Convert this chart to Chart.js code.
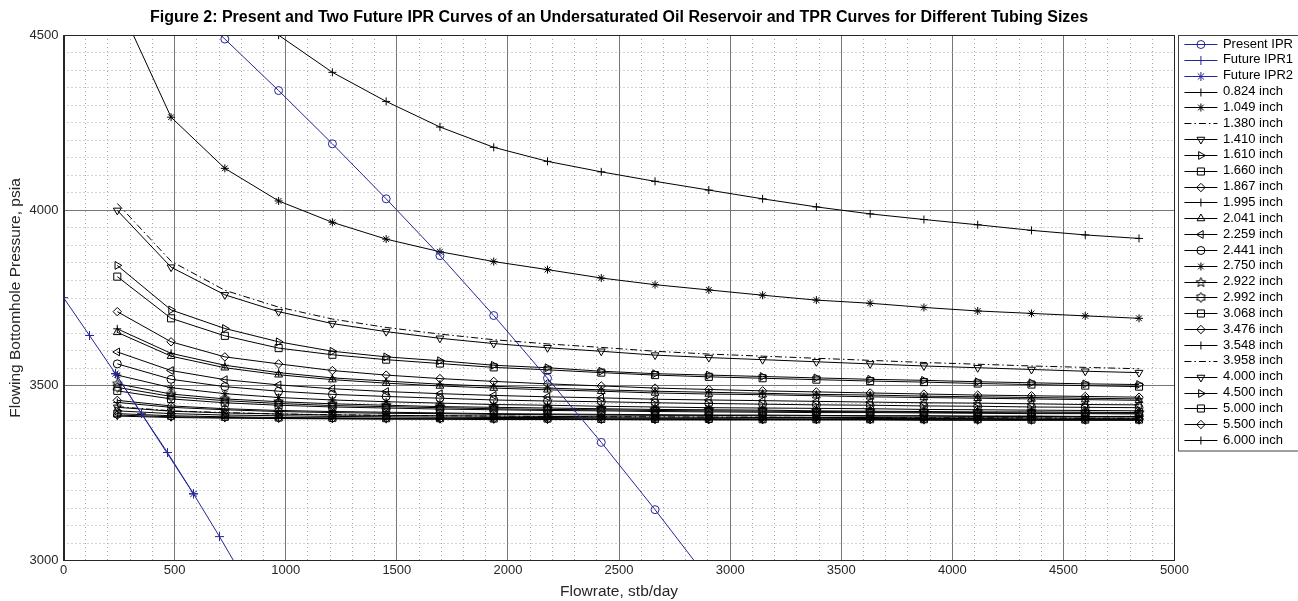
<!DOCTYPE html>
<html><head><meta charset="utf-8">
<script src="https://cdn.jsdelivr.net/npm/chart.js@4.4.0/dist/chart.umd.min.js"></script>
<style>html,body{margin:0;padding:0;background:#fff;overflow:hidden}#wrap{position:relative;width:1298px;height:601px;overflow:hidden}</style>
</head><body><div id="wrap"><canvas id="c" width="1312" height="601"></canvas></div>
<script>
// ---------------- data ----------------
const presentIprRates = [0,242,484,726,968,1210,1452,1694,1936,2178,2420,2662,2904];
const presentIprPressure = [4909,4772,4632,4489,4342,4190,4033,3871,3700,3521,3338,3146,2946];
const futureIpr1Rates = [0,117,234,351,468,585,702,819];
const futureIpr1Pressure = [3751,3643,3534,3420,3309,3191,3069,2942];
const futureIpr2Rates = [234,585];
const futureIpr2Pressure = [3534,3191];

const tprRates = [242,484,726,968,1210,1452,1694,1936,2178,2420,2662,2904,3146,3388,3630,3872,4114,4356,4598,4840];
const tubingLabels = ['0.824 inch','1.049 inch','1.380 inch','1.410 inch','1.610 inch','1.660 inch','1.867 inch','1.995 inch','2.041 inch','2.259 inch','2.441 inch','2.750 inch','2.922 inch','2.992 inch','3.068 inch','3.476 inch','3.548 inch','3.958 inch','4.000 inch','4.500 inch','5.000 inch','5.500 inch','6.000 inch'];
const tpr0824 = [5200,4850,4640,4500,4394,4311,4238,4180,4140,4110,4083,4058,4033,4010,3990,3974,3959,3943,3930,3920];
const tpr1049 = [4600,4266,4120,4027,3966,3918,3882,3854,3831,3807,3788,3773,3758,3744,3735,3723,3713,3706,3699,3692];
const tpr1380 = [4020,3855,3772,3724,3690,3666,3647,3631,3619,3609,3598,3590,3584,3578,3572,3566,3561,3556,3552,3548];
const tpr1410 = [4000,3838,3759,3711,3677,3654,3635,3620,3608,3598,3587,3580,3574,3568,3562,3556,3551,3546,3541,3537];
const tpr1610 = [3843,3716,3663,3625,3598,3582,3571,3558,3551,3541,3534,3530,3526,3522,3518,3515,3511,3508,3505,3503];
const tpr1660 = [3811,3692,3642,3607,3588,3574,3563,3552,3545,3537,3530,3525,3521,3517,3513,3510,3506,3503,3500,3497];
const tpr1867 = [3711,3625,3582,3562,3543,3530,3520,3512,3505,3499,3493,3489,3485,3482,3479,3476,3473,3471,3469,3467];
const tpr1995 = [3662,3592,3558,3537,3522,3513,3504,3498,3493,3488,3484,3481,3478,3475,3473,3470,3468,3466,3464,3462];
const tpr2041 = [3652,3584,3551,3531,3517,3507,3499,3493,3488,3484,3479,3476,3474,3471,3468,3466,3464,3462,3460,3458];
const tpr2259 = [3596,3543,3517,3502,3491,3483,3477,3472,3468,3465,3461,3459,3457,3455,3453,3451,3450,3448,3446,3445];
const tpr2441 = [3562,3518,3497,3484,3475,3469,3464,3459,3456,3454,3451,3449,3447,3445,3444,3442,3441,3439,3438,3437];
const tpr2750 = [3530,3494,3477,3466,3459,3454,3450,3446,3444,3441,3439,3437,3436,3435,3434,3432,3431,3430,3429,3428];
const tpr2922 = [3505,3476,3462,3454,3448,3444,3440,3438,3436,3434,3432,3431,3430,3428,3427,3426,3425,3425,3424,3423];
const tpr2992 = [3495,3469,3457,3449,3443,3440,3437,3434,3432,3431,3429,3428,3427,3426,3425,3424,3423,3422,3422,3421];
const tpr3068 = [3485,3462,3451,3444,3439,3436,3433,3431,3429,3428,3426,3425,3424,3423,3423,3422,3421,3420,3420,3419];
const tpr3476 = [3458,3442,3434,3429,3426,3424,3422,3420,3419,3418,3417,3416,3416,3415,3414,3414,3413,3413,3412,3412];
const tpr3548 = [3452,3438,3431,3426,3423,3421,3420,3418,3417,3416,3415,3415,3414,3414,3413,3413,3412,3412,3411,3411];
const tpr3958 = [3440,3428,3423,3419,3417,3415,3414,3413,3412,3411,3411,3410,3410,3409,3409,3408,3408,3408,3407,3407];
const tpr4000 = [3438,3427,3422,3419,3416,3415,3414,3413,3412,3411,3410,3410,3409,3409,3409,3408,3408,3408,3407,3407];
const tpr4500 = [3428,3420,3416,3414,3412,3411,3410,3409,3409,3408,3407,3407,3407,3407,3406,3406,3406,3405,3405,3405];
const tpr5000 = [3420,3414,3411,3409,3408,3407,3407,3406,3406,3405,3405,3405,3404,3404,3404,3404,3404,3403,3403,3403];
const tpr5500 = [3416,3411,3409,3407,3406,3406,3405,3405,3404,3404,3404,3403,3403,3403,3403,3403,3402,3402,3402,3402];
const tpr6000 = [3413,3409,3407,3406,3405,3404,3404,3403,3403,3403,3402,3402,3402,3402,3402,3401,3401,3401,3401,3401];
const tprSeries = [tpr0824,tpr1049,tpr1380,tpr1410,tpr1610,tpr1660,tpr1867,tpr1995,tpr2041,tpr2259,tpr2441,tpr2750,tpr2922,tpr2992,tpr3068,tpr3476,tpr3548,tpr3958,tpr4000,tpr4500,tpr5000,tpr5500,tpr6000];

const xTickValues = [0,500,1000,1500,2000,2500,3000,3500,4000,4500,5000];
const yTickValues = [3000,3500,4000,4500];

// ---------------- styles ----------------
const FONT = "'Liberation Sans', Arial, Helvetica, sans-serif";
const BLUE = '#25259a';
function starImage(n, r, inner) {
  const s = Math.ceil(2 * r + 3);
  const c = document.createElement('canvas'); c.width = s; c.height = s;
  const g = c.getContext('2d'); g.strokeStyle = '#000'; g.lineWidth = 1;
  g.beginPath();
  for (let i = 0; i < 2 * n; i++) {
    const a = -Math.PI / 2 + i * Math.PI / n;
    const rr = (i % 2) ? inner : r;
    const px = s / 2 + rr * Math.cos(a), py = s / 2 + rr * Math.sin(a);
    if (i) g.lineTo(px, py); else g.moveTo(px, py);
  }
  g.closePath(); g.stroke();
  return c;
}
const pentagram = starImage(5, 5, 2.2);
const hexagram = starImage(6, 5, 3);
const DASHDOT = [7, 3, 1.5, 3];
// marker style per tubing size: [pointStyle, rotation, radius, dash]
const tprMarkers = [
  ['cross',0,4,null],['star',0,4,null],[false,0,0,DASHDOT],['triangle',180,4.5,null],['triangle',90,4.5,null],
  ['rect',0,5,null],['rectRot',0,4.2,null],['cross',0,4,null],['triangle',0,4.5,null],['triangle',-90,4.5,null],
  ['circle',0,4,null],['star',0,4,null],[pentagram,0,4,null],[hexagram,0,4,null],['rect',0,5,null],
  ['rectRot',0,4.2,null],['cross',0,4,null],[false,0,0,DASHDOT],['triangle',180,4.5,null],['triangle',90,4.5,null],
  ['rect',0,5,null],['rectRot',0,4.2,null],['cross',0,4,null]
];

function pts(xs, ys) { return xs.map((x, i) => ({x: x, y: ys[i]})); }

const datasets = [
  {label:'Present IPR', data:pts(presentIprRates,presentIprPressure), borderColor:BLUE, pointStyle:'circle', pointRadius:4},
  {label:'Future IPR1', data:pts(futureIpr1Rates,futureIpr1Pressure), borderColor:BLUE, pointStyle:'cross', pointRadius:4.5},
  {label:'Future IPR2', data:pts(futureIpr2Rates,futureIpr2Pressure), borderColor:BLUE, pointStyle:'star', pointRadius:4.5}
];
tubingLabels.forEach((lab, i) => {
  const m = tprMarkers[i];
  datasets.push({label:lab, data:pts(tprRates,tprSeries[i]), borderColor:'#000',
    pointStyle:m[0] || 'circle', pointRotation:m[1], pointRadius:m[2], borderDash:m[3] || []});
});
datasets.forEach(d => {
  d.showLine = true; d.borderWidth = 1; d.tension = 0; d.fill = false;
  d.pointBorderColor = d.borderColor; d.pointBackgroundColor = 'rgba(0,0,0,0)';
  d.pointBorderWidth = 1; d.pointHoverRadius = d.pointRadius;
  d.xAxisID = 'x'; d.yAxisID = 'y';
});

const BOXW = 40;
const frameAndLegend = {
  id: 'frameAndLegend',
  afterDatasetsDraw(chart) {
    const a = chart.chartArea, ctx = chart.ctx;
    ctx.save();
    ctx.strokeStyle = '#262626'; ctx.lineWidth = 1;
    ctx.strokeRect(Math.round(a.left) + 0.5, Math.round(a.top) + 0.5, Math.round(a.right - a.left) - 1, Math.round(a.bottom - a.top) - 1);
    ctx.restore();
  },
  afterDraw(chart) {
    const lg = chart.legend; if (!lg || !lg.legendHitBoxes) return;
    const ctx = chart.ctx, hbs = lg.legendHitBoxes;
    ctx.save();
    const last = hbs[hbs.length - 1];
    const fx = Math.round(chart.chartArea.right) + 3.5, fy = Math.round(chart.chartArea.top) + 0.5;
    ctx.strokeStyle = '#404040'; ctx.lineWidth = 1;
    ctx.strokeRect(fx, fy, chart.width + 10 - fx, Math.round(last.top + last.height + 4) - fy);
    hbs.forEach((hb, i) => {
      const ds = chart.data.datasets[i];
      const y = Math.round(hb.top + hb.height / 2) + 0.5;
      const x0 = hb.left + 8, x1 = hb.left + BOXW + 1;
      ctx.strokeStyle = ds.borderColor; ctx.lineWidth = 1;
      ctx.setLineDash(ds.borderDash || []);
      ctx.beginPath(); ctx.moveTo(x0, y); ctx.lineTo(x1, y); ctx.stroke();
      ctx.setLineDash([]);
      const m = i >= 3 ? tprMarkers[i - 3] : null;
      const hasMarker = !(m && m[0] === false);
      if (hasMarker && Chart.helpers && Chart.helpers.drawPoint) {
        ctx.fillStyle = 'rgba(0,0,0,0)';
        Chart.helpers.drawPoint(ctx, {pointStyle: ds.pointStyle, rotation: ds.pointRotation || 0, radius: ds.pointRadius, borderWidth: 1}, (x0 + x1) / 2, y);
      }
    });
    ctx.restore();
  }
};

const plainTick = v => String(v);

new Chart(document.getElementById('c'), {
  type: 'scatter',
  data: {datasets: datasets},
  plugins: [frameAndLegend],
  options: {
    responsive: false, animation: false, devicePixelRatio: 1,
    layout: {padding: {left: 6, right: 9, top: 0, bottom: 0}},
    font: {family: FONT},
    scales: {
      x: {type:'linear', min:0, max:5000, position:'bottom',
        afterBuildTicks: s => { s.ticks = xTickValues.map(v => ({value: v})); },
        ticks: {color:'#262626', font:{family:FONT, size:13}, padding:2, maxRotation:0, autoSkip:false, callback: plainTick},
        grid: {color: c => (c.tick && (c.tick.value === 0 || c.tick.value === 5000)) ? 'rgba(0,0,0,0)' : '#767676', lineWidth:1, drawTicks:false},
        border: {display:true, color:'#262626'},
        title: {display:true, text:'Flowrate, stb/day', color:'#262626', font:{family:FONT, size:15.5}, padding:{top:2, bottom:0}}},
      y: {type:'linear', min:3000, max:4500, position:'left',
        afterBuildTicks: s => { s.ticks = yTickValues.map(v => ({value: v})); },
        ticks: {color:'#262626', font:{family:FONT, size:13}, padding:5, autoSkip:false, callback: plainTick},
        grid: {color: c => (c.tick && (c.tick.value === 3000 || c.tick.value === 4500)) ? 'rgba(0,0,0,0)' : '#767676', lineWidth:1, drawTicks:false},
        border: {display:true, color:'#262626'},
        title: {display:true, text:'Flowing Bottomhole Pressure, psia', color:'#262626', font:{family:FONT, size:15.5}, padding:{top:0, bottom:0}}},
      xMinor: {type:'linear', min:0, max:5000, position:'top', display:true,
        ticks: {display:false, stepSize:100},
        grid: {color: c => (c.tick && c.tick.value % 500 === 0) ? 'rgba(0,0,0,0)' : '#a8a8a8', lineWidth:1, drawTicks:false},
        border: {display:false, dash:[1,3]}},
      yMinor: {type:'linear', min:3000, max:4500, position:'right', display:true,
        ticks: {display:false, stepSize:50},
        grid: {color: c => (c.tick && c.tick.value % 500 === 0) ? 'rgba(0,0,0,0)' : '#a8a8a8', lineWidth:1, drawTicks:false},
        border: {display:false, dash:[1,3]}}
    },
    plugins: {
      tooltip: {enabled:false},
      title: {display:true, fullSize:false, text:'Figure 2: Present and Two Future IPR Curves of an Undersaturated Oil Reservoir and TPR Curves for Different Tubing Sizes',
        color:'#000', font:{family:FONT, size:16, weight:'bold'}, padding:{top:8, bottom:8}},
      legend: {display:true, position:'right', align:'start', fullSize:false,
        labels: {boxWidth:BOXW, boxHeight:14, padding:1.84, color:'#000', font:{family:FONT, size:13},
          generateLabels: chart => chart.data.datasets.map((d, i) => ({text:d.label, fillStyle:'rgba(0,0,0,0)', strokeStyle:'rgba(0,0,0,0)', lineWidth:0, hidden:false, datasetIndex:i}))}}
    }
  }
});
</script></body></html>
